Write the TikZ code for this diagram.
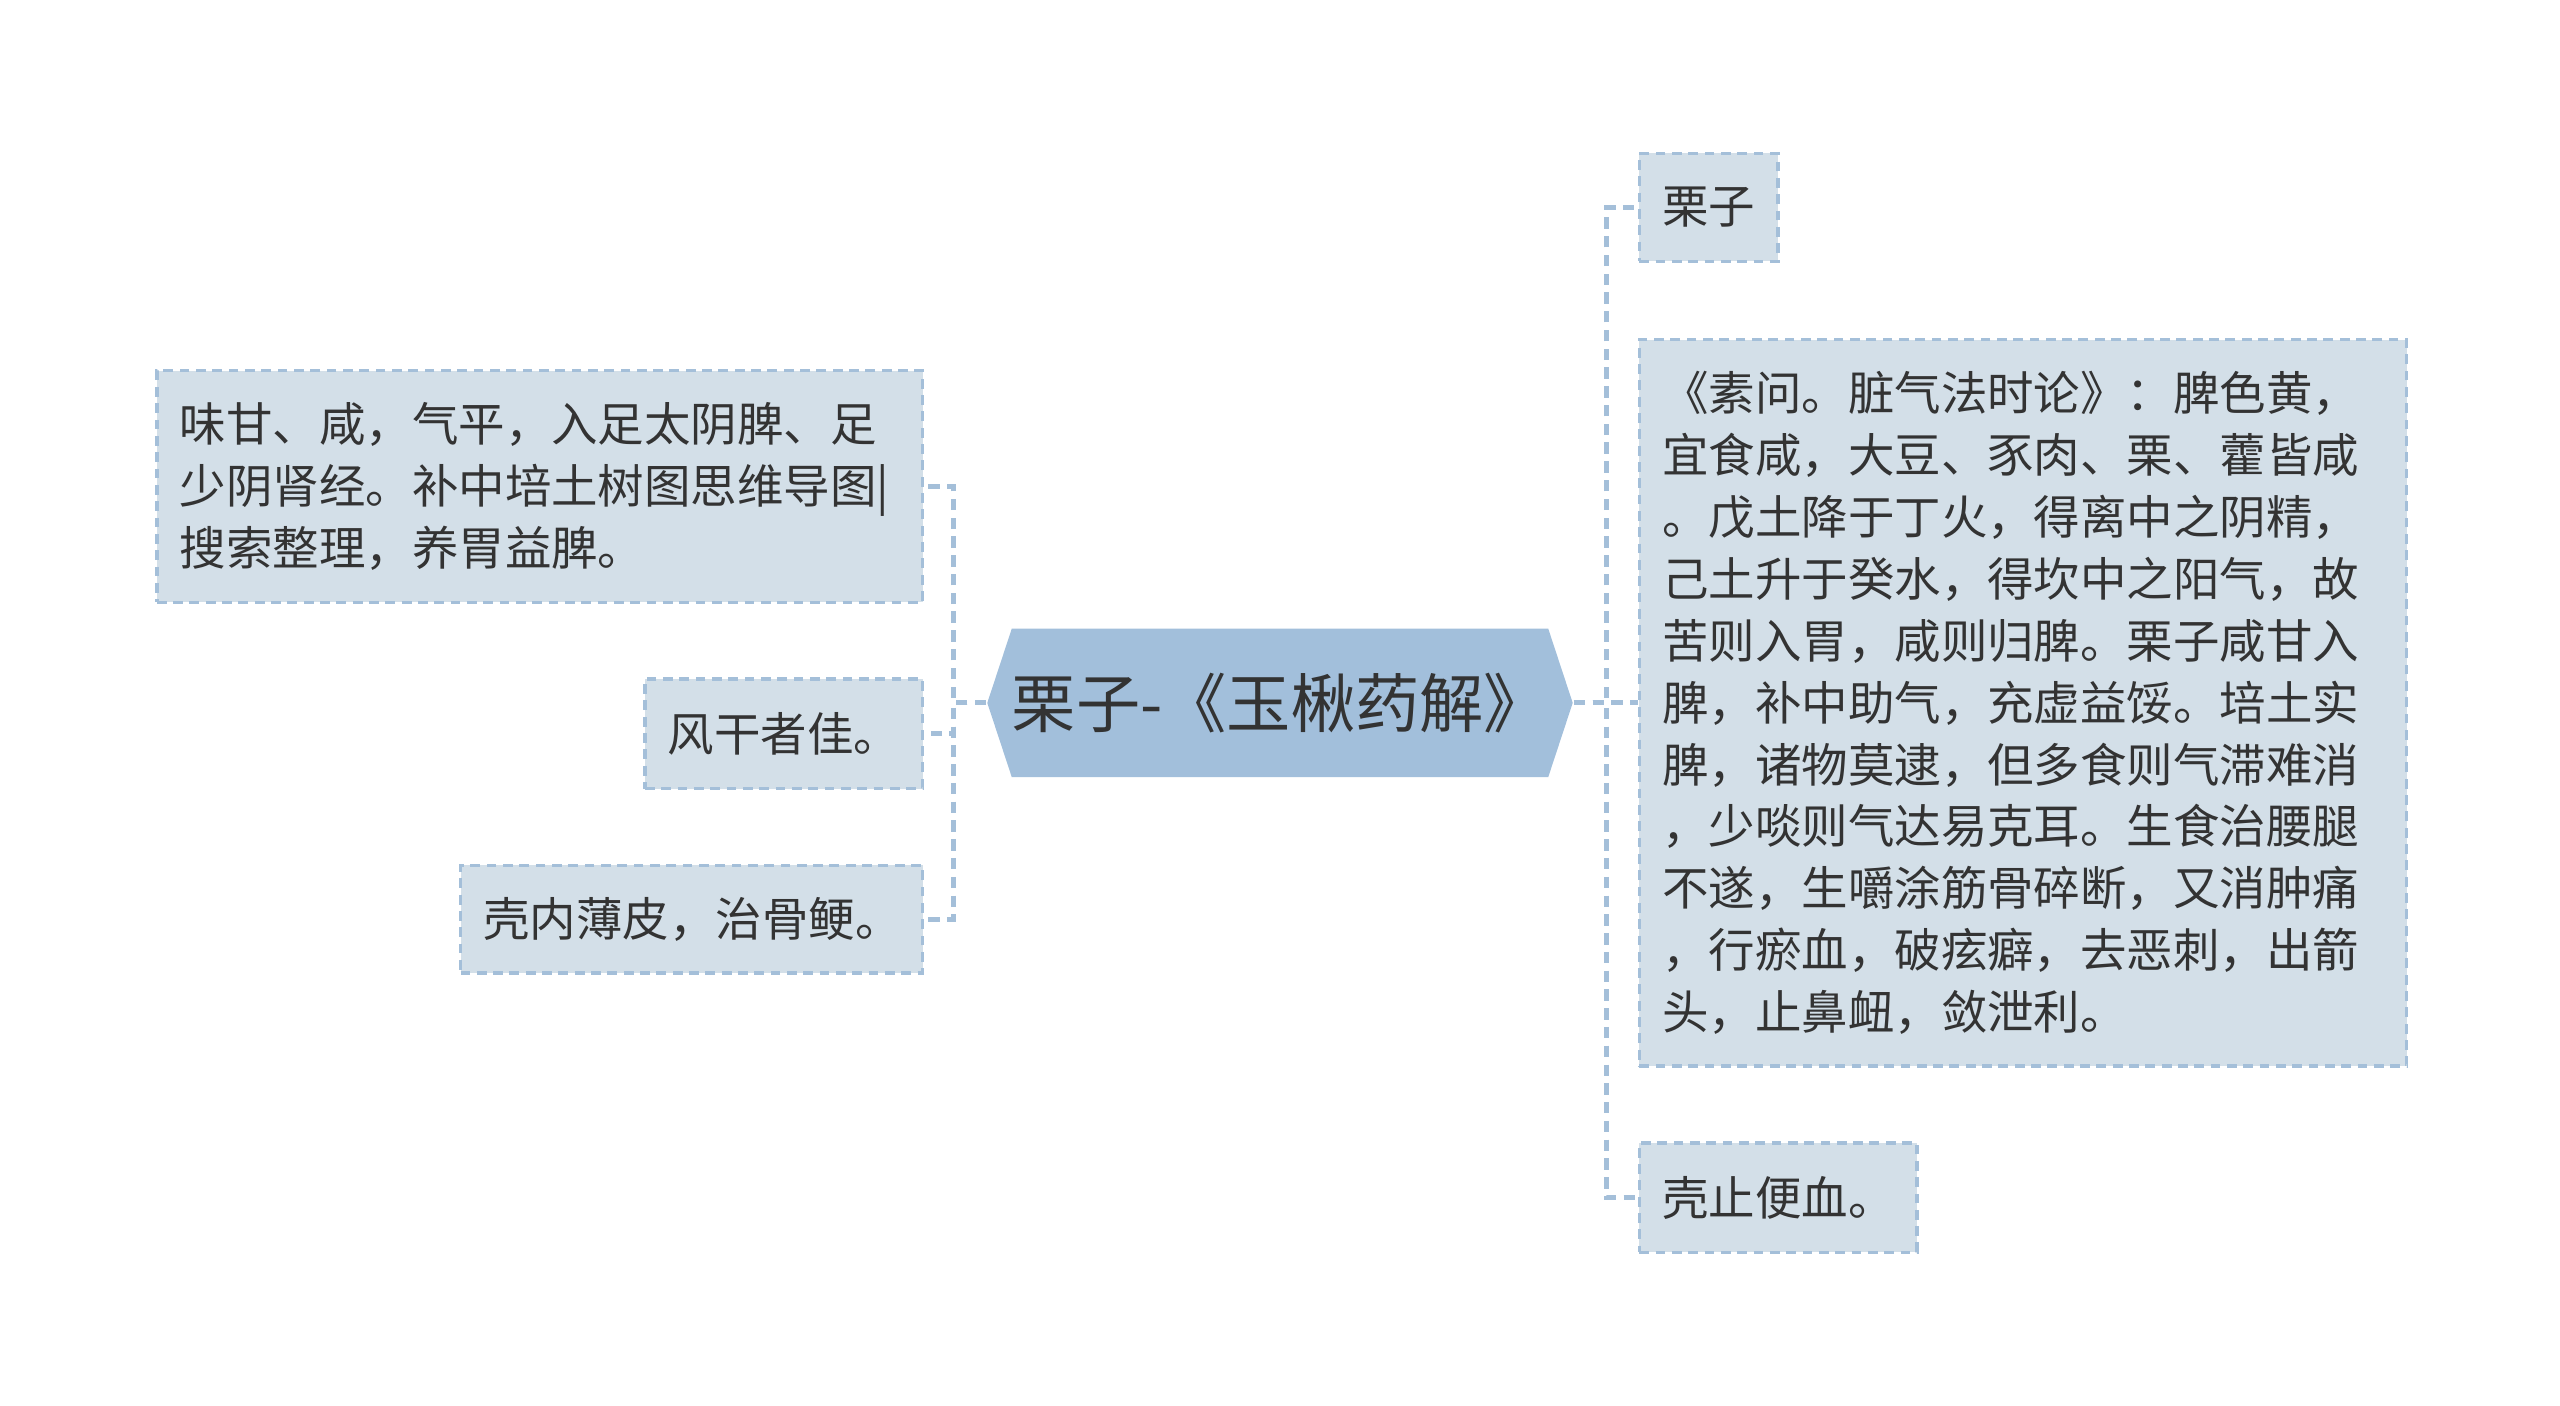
\documentclass[tikz,border=0pt]{standalone}
\usepackage{fontspec}
\setmainfont{Noto Sans CJK SC}
\usetikzlibrary{shapes.symbols}
\definecolor{boxfill}{HTML}{D3DFE8}
\definecolor{boxline}{HTML}{A4BFD9}
\definecolor{rootfill}{HTML}{A2BFDB}
\definecolor{txt}{HTML}{333333}
\begin{document}
\begin{tikzpicture}[x=0.1mm, y=-0.1mm,
  leaf/.style={draw=boxline, fill=boxfill, dash pattern=on 0.6mm off 0.4mm,
    line width=0.6pt, text=txt, font=\fontsize{8.1pt}{10.8pt}\selectfont,
    align=left, anchor=west, inner xsep=1.4mm, inner ysep=0pt},
  link/.style={draw=boxline, line width=0.9pt, dash pattern=on 0.7mm off 0.45mm}]
\useasboundingbox (0,0) rectangle (1568,861);
% centre
\node[signal, signal to=west and east, signal pointer angle=143.5,
  fill=rootfill, draw=none, text=txt, font=\fontsize{11.2pt}{13pt}\selectfont,
  minimum width=35.8mm, minimum height=9.1mm, inner sep=0pt] (root) at (784,430.5) {栗子-《玉楸药解》};
% left side
\node[leaf, text width=44.1mm, minimum height=14.2mm] (a) at (95,298)
  {味甘、咸，气平，入足太阴脾、足\\少阴肾经。补中培土树图思维导图|\\搜索整理，养胃益脾。};
\node[leaf, text width=14.2mm, minimum height=6.7mm] (b) at (394,449.5) {风干者佳。};
\node[leaf, text width=25.5mm, minimum height=6.6mm] (c) at (281,563) {壳内薄皮，治骨鲠。};
% right side
\node[leaf, text width=5.7mm, minimum height=6.6mm] (d) at (1003,127) {栗子};
\node[leaf, text width=44.2mm, minimum height=44.5mm] (e) at (1003,430.5)
  {《素问。脏气法时论》：脾色黄，\\宜食咸，大豆、豕肉、栗、藿皆咸\\。戊土降于丁火，得离中之阴精，\\己土升于癸水，得坎中之阳气，故\\苦则入胃，咸则归脾。栗子咸甘入\\脾，补中助气，充虚益馁。培土实\\脾，诸物莫逮，但多食则气滞难消\\，少啖则气达易克耳。生食治腰腿\\不遂，生嚼涂筋骨碎断，又消肿痛\\，行瘀血，破痃癖，去恶刺，出箭\\头，止鼻衄，敛泄利。};
\node[leaf, text width=14.2mm, minimum height=6.7mm] (f) at (1003,733.5) {壳止便血。};
% links
\foreach \n in {a,b,c}
  \draw[link] (root.west) -- ++(-20,0) |- (\n.east);
\foreach \n in {d,e,f}
  \draw[link] (root.east) -- ++(20,0) |- (\n.west);
\end{tikzpicture}
\end{document}
